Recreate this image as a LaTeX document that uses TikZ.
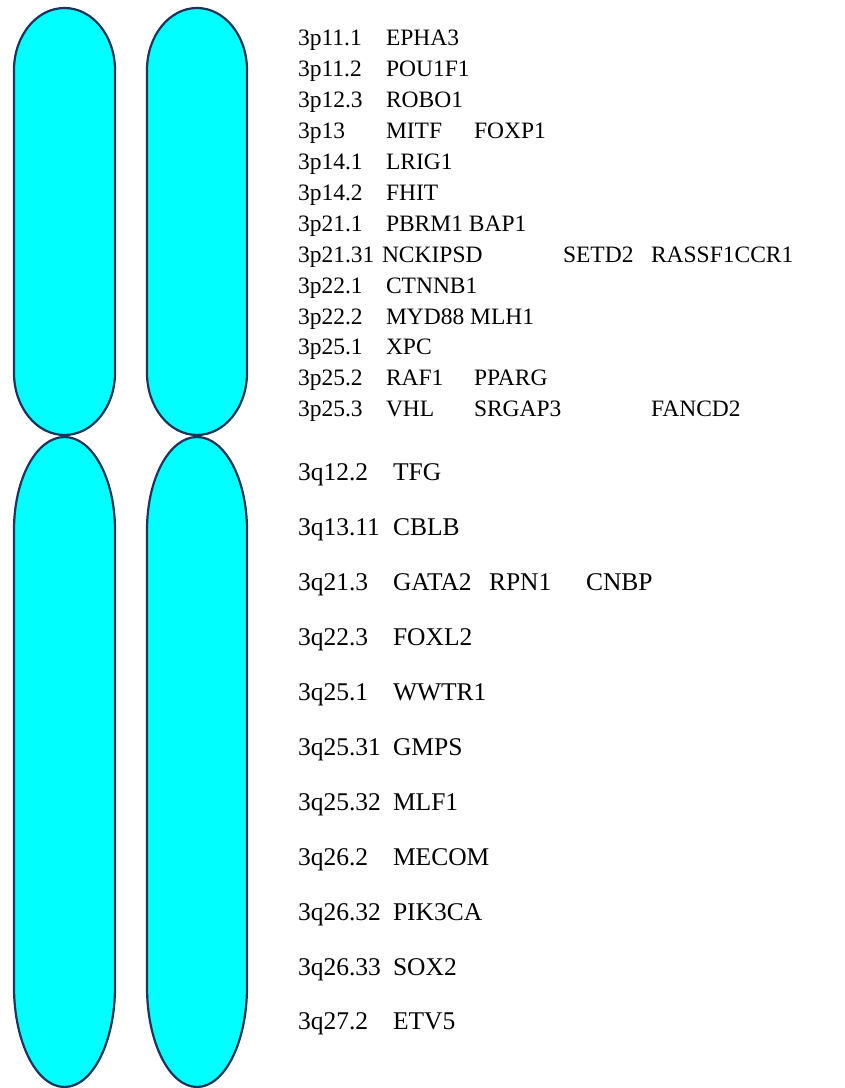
\documentclass[tikz,border=0pt]{standalone}
\usepackage{fontspec}
\setmainfont{Liberation Serif}
\definecolor{chromline}{RGB}{28,52,90}
\definecolor{chromfill}{RGB}{0,255,255}
\newcommand{\pfont}{\fontsize{23.5}{28}\selectfont}
\newcommand{\qfont}{\fontsize{25.5}{30}\selectfont}
\tikzset{
  chrom/.style={draw=chromline, fill=chromfill, line width=2.2pt},
  ptxt/.style={anchor=base west, inner sep=0pt, outer sep=0pt, font=\pfont},
  qtxt/.style={anchor=base west, inner sep=0pt, outer sep=0pt, font=\qfont},
}
% arm: cx, rx, top cap centre y, top ry, bottom cap centre y, bottom ry
\newcommand{\chromarm}[6]{%
  \draw[chrom] ({#1-#2},#3) arc[start angle=180,end angle=0,x radius=#2,y radius=#4]
    -- ({#1+#2},#5) arc[start angle=0,end angle=-180,x radius=#2,y radius=#6] -- cycle;}
\begin{document}
\begin{tikzpicture}[x=1pt,y=1pt]
\useasboundingbox (0,0) rectangle (845,1088);
% chromosomes
\chromarm{64.5}{50.5}{1018}{62}{715}{62}
\chromarm{64.5}{50.5}{558}{93}{101}{100}
\chromarm{197}{50}{1018}{62}{715}{62}
\chromarm{197}{50}{558}{93}{101}{100}
% p arm
\node[ptxt] (pb0) at (298,1042) {3p11.1};  \node[ptxt] (pg0a) at (386,1042) {EPHA3};
\node[ptxt] (pb1) at (298,1011.1) {3p11.2}; \node[ptxt] (pg1a) at (386,1011.1) {POU1F1};
\node[ptxt] (pb2) at (298,980.2) {3p12.3}; \node[ptxt] (pg2a) at (386,980.2) {ROBO1};
\node[ptxt] (pb3) at (298,949.3) {3p13};   \node[ptxt] (pg3a) at (386,949.3) {MITF};
  \node[ptxt] (pg3b) at (474,949.3) {FOXP1};
\node[ptxt] (pb4) at (298,918.4) {3p14.1}; \node[ptxt] (pg4a) at (386,918.4) {LRIG1};
\node[ptxt] (pb5) at (298,887.5) {3p14.2}; \node[ptxt] (pg5a) at (386,887.5) {FHIT};
\node[ptxt] (pb6) at (298,856.6) {3p21.1}; \node[ptxt] (pg6a) at (386,856.6) {PBRM1 BAP1};
\node[ptxt] (pb7) at (298,825.7) {3p21.31}; \node[ptxt] (pg7a) at (382,825.7) {NCKIPSD};
  \node[ptxt] (pg7b) at (563,825.7) {SETD2};
  \node[ptxt] (pg7c) at (651,825.7) {RASSF1CCR1};
\node[ptxt] (pb8) at (298,794.8) {3p22.1}; \node[ptxt] (pg8a) at (386,794.8) {CTNNB1};
\node[ptxt] (pb9) at (298,763.9) {3p22.2}; \node[ptxt] (pg9a) at (386,763.9) {MYD88 MLH1};
\node[ptxt] (pb10) at (298,733) {3p25.1}; \node[ptxt] (pg10a) at (386,733) {XPC};
\node[ptxt] (pb11) at (298,702.1) {3p25.2}; \node[ptxt] (pg11a) at (386,702.1) {RAF1};
  \node[ptxt] (pg11b) at (474,702.1) {PPARG};
\node[ptxt] (pb12) at (298,671.2) {3p25.3}; \node[ptxt] (pg12a) at (386,671.2) {VHL};
  \node[ptxt] (pg12b) at (474,671.2) {SRGAP3};
  \node[ptxt] (pg12c) at (651,671.2) {FANCD2};
% q arm
\node[qtxt] (qb0) at (298,607) {3q12.2};   \node[qtxt] (qg0a) at (393,607) {TFG};
\node[qtxt] (qb1) at (298,552.1) {3q13.11}; \node[qtxt] (qg1a) at (393,552.1) {CBLB};
\node[qtxt] (qb2) at (298,497.2) {3q21.3}; \node[qtxt] (qg2a) at (393,497.2) {GATA2};
  \node[qtxt] (qg2b) at (489,497.2) {RPN1};
  \node[qtxt] (qg2c) at (586,497.2) {CNBP};
\node[qtxt] (qb3) at (298,442.3) {3q22.3}; \node[qtxt] (qg3a) at (393,442.3) {FOXL2};
\node[qtxt] (qb4) at (298,387.4) {3q25.1}; \node[qtxt] (qg4a) at (393,387.4) {WWTR1};
\node[qtxt] (qb5) at (298,332.5) {3q25.31}; \node[qtxt] (qg5a) at (393,332.5) {GMPS};
\node[qtxt] (qb6) at (298,277.6) {3q25.32}; \node[qtxt] (qg6a) at (393,277.6) {MLF1};
\node[qtxt] (qb7) at (298,222.7) {3q26.2}; \node[qtxt] (qg7a) at (393,222.7) {MECOM};
\node[qtxt] (qb8) at (298,167.8) {3q26.32}; \node[qtxt] (qg8a) at (393,167.8) {PIK3CA};
\node[qtxt] (qb9) at (298,112.9) {3q26.33}; \node[qtxt] (qg9a) at (393,112.9) {SOX2};
\node[qtxt] (qb10) at (298,58) {3q27.2}; \node[qtxt] (qg10a) at (393,58) {ETV5};
\end{tikzpicture}
\end{document}
